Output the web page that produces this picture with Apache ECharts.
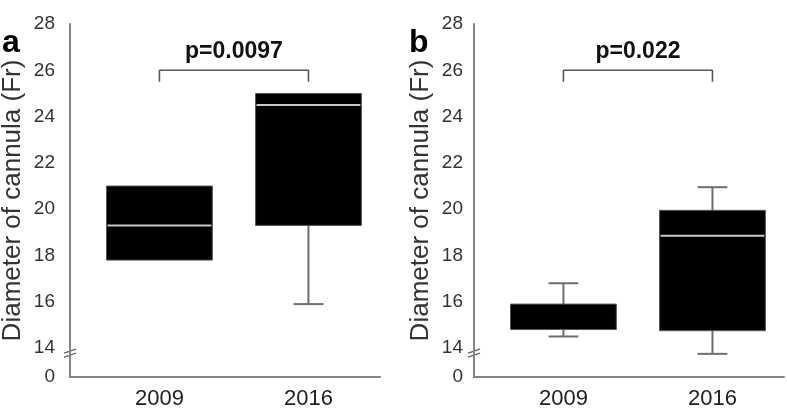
<!DOCTYPE html>
<html><head><meta charset="utf-8">
<script src="https://cdn.jsdelivr.net/npm/echarts@6/dist/echarts.min.js"></script>
<style>html,body{margin:0;padding:0;background:#fff}#c{width:787px;height:409px}</style>
</head><body><div id="c"></div>
<script>
// ---- data ----
const categories = ['2009', '2016'];
const yTicks = [14, 16, 18, 20, 22, 24, 26, 28];
const breakLabel = '0';
// panel a
const aMin = [17.8, 15.9];
const aQ1 = [17.8, 19.3];
const aMedian = [19.3, 24.5];
const aQ3 = [21.0, 25.0];
const aMax = [21.0, 25.0];
const aP = 'p=0.0097';
// panel b
const bMin = [14.5, 13.75];
const bQ1 = [14.8, 14.75];
const bMedian = [14.8, 18.85];
const bQ3 = [15.9, 19.95];
const bMax = [16.8, 20.95];
const bP = 'p=0.022';
const bracketTop = 26;
const bracketDrop = 25.5;
const panelLetters = ['a', 'b'];
const yName = 'Diameter of cannula (Fr)';

// ---- layout/style ----
const Y_MIN = 12.75, Y_MAX = 28;
const X_MIN = 0.4, X_MAX = 2.48;
const BOX_W = 0.71, CAP_W = 0.2;
const FONT = '"Liberation Sans", Arial, sans-serif';
const axisColor = '#858585';

const chart = echarts.init(document.getElementById('c'));

function xAxisCfg(i) {
  return {
    type: 'value', gridIndex: i, min: X_MIN, max: X_MAX,
    axisLine: { show: true, onZero: false, lineStyle: { color: axisColor, width: 2 } },
    axisTick: { show: false }, splitLine: { show: false },
    axisLabel: {
      customValues: categories.map((c, k) => k + 1),
      formatter: v => categories[Math.round(v) - 1] || '',
      fontFamily: FONT, fontSize: 22, color: '#222', margin: 11
    }
  };
}
function yAxisCfg(i, margin, gap) {
  return {
    type: 'value', gridIndex: i, min: Y_MIN, max: Y_MAX,
    name: yName, nameLocation: 'middle', nameGap: gap,
    nameTextStyle: { fontFamily: FONT, fontSize: 26, color: '#333' },
    axisLine: { show: true, onZero: false, lineStyle: { color: axisColor, width: 2 } },
    axisTick: { show: false }, splitLine: { show: false },
    axisLabel: {
      customValues: [Y_MIN].concat(yTicks),
      formatter: v => (Math.abs(v - Y_MIN) < 1e-6 ? breakLabel : String(v)),
      fontFamily: FONT, fontSize: 19, color: '#333', margin: margin
    }
  };
}
function boxSeries(i, mins, q1s, meds, q3s, maxs) {
  return {
    type: 'custom', xAxisIndex: i, yAxisIndex: i,
    data: categories.map((c, k) => [k + 1, mins[k], q1s[k], meds[k], q3s[k], maxs[k]]),
    encode: { x: 0, y: [1, 2, 3, 4, 5] },
    renderItem: function (params, api) {
      const x = api.value(0), lo = api.value(1), q1 = api.value(2), md = api.value(3), q3 = api.value(4), hi = api.value(5);
      const half = api.size([BOX_W, 0])[0] / 2, cap = api.size([CAP_W, 0])[0] / 2;
      const c = v => api.coord([x, v]);
      const ws = { stroke: '#6e6e6e', lineWidth: 2 };
      const ch = [];
      if (hi > q3) {
        const a = c(hi), b = c(q3);
        ch.push({ type: 'line', shape: { x1: a[0], y1: a[1], x2: b[0], y2: b[1] }, style: ws });
        ch.push({ type: 'line', shape: { x1: a[0] - cap, y1: a[1], x2: a[0] + cap, y2: a[1] }, style: ws });
      }
      if (lo < q1) {
        const a = c(lo), b = c(q1);
        ch.push({ type: 'line', shape: { x1: a[0], y1: a[1], x2: b[0], y2: b[1] }, style: ws });
        ch.push({ type: 'line', shape: { x1: a[0] - cap, y1: a[1], x2: a[0] + cap, y2: a[1] }, style: ws });
      }
      const t = c(q3), bt = c(q1);
      ch.push({ type: 'rect', shape: { x: t[0] - half, y: t[1], width: 2 * half, height: bt[1] - t[1] },
        style: { fill: '#000', stroke: '#555', lineWidth: 1 } });
      if (md > q1 && md < q3) {
        const m = c(md);
        ch.push({ type: 'line', shape: { x1: m[0] - half + 1, y1: m[1], x2: m[0] + half - 1, y2: m[1] },
          style: { stroke: '#c8c8c8', lineWidth: 2 } });
      }
      return { type: 'group', children: ch };
    }
  };
}
function bracketSeries(i) {
  return {
    type: 'line', xAxisIndex: i, yAxisIndex: i, symbol: 'none', silent: true,
    data: [[1, bracketDrop], [1, bracketTop], [2, bracketTop], [2, bracketDrop]],
    lineStyle: { color: '#585858', width: 1.6 }
  };
}

const option = {
  animation: false,
  backgroundColor: '#fff',
  grid: [
    { left: 70, right: 407, top: 24, bottom: 32, containLabel: false, outerBoundsMode: 'none' },
    { left: 474, right: 3, top: 24, bottom: 32, containLabel: false, outerBoundsMode: 'none' }
  ],
  xAxis: [xAxisCfg(0), xAxisCfg(1)],
  yAxis: [yAxisCfg(0, 15, 44), yAxisCfg(1, 11, 40)],
  series: [
    boxSeries(0, aMin, aQ1, aMedian, aQ3, aMax),
    boxSeries(1, bMin, bQ1, bMedian, bQ3, bMax),
    bracketSeries(0), bracketSeries(1)
  ]
};
chart.setOption(option);

// annotations positioned from the axes
const g = [];
[aP, bP].forEach((p, i) => {
  const mid = chart.convertToPixel({ xAxisIndex: i, yAxisIndex: i }, [1.5, bracketTop]);
  g.push({ type: 'text', x: mid[0], y: mid[1] - 19,
    style: { text: p, font: 'bold 23px ' + FONT, fill: '#111', align: 'center', verticalAlign: 'middle' } });
  const br = chart.convertToPixel({ xAxisIndex: i, yAxisIndex: i }, [X_MIN, 13.78]);
  const bx = Math.round(br[0]), by = br[1];
  g.push({ type: 'rect', shape: { x: bx - 2, y: by - 2, width: 4, height: 4 }, style: { fill: '#fff' } });
  g.push({ type: 'line', shape: { x1: bx - 6, y1: by + 0, x2: bx + 6, y2: by - 4 }, style: { stroke: '#666', lineWidth: 1.4 } });
  g.push({ type: 'line', shape: { x1: bx - 6, y1: by + 4, x2: bx + 6, y2: by }, style: { stroke: '#666', lineWidth: 1.4 } });
  const lx = i === 0 ? 2 : 409;
  g.push({ type: 'text', x: lx, y: 27,
    style: { text: panelLetters[i], font: 'bold 32px ' + FONT, fill: '#000', align: 'left', verticalAlign: 'alphabetic' } });
});
chart.setOption({ graphic: g });
</script>
</body></html>
